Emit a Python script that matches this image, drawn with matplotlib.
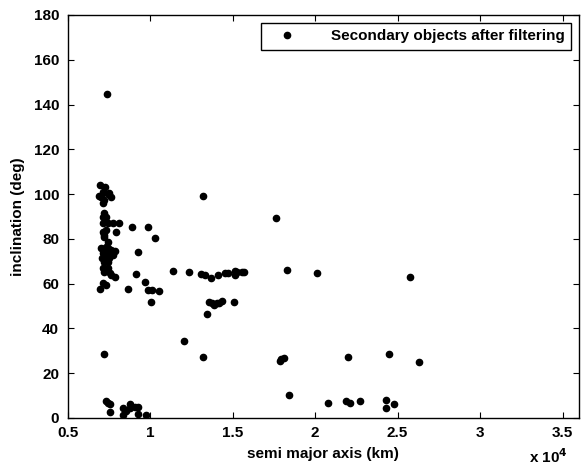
import numpy as np
import matplotlib
matplotlib.use("Agg")
import matplotlib.pyplot as plt

plt.rcParams['font.family'] = ['Liberation Sans', 'DejaVu Sans']
plt.rcParams['font.weight'] = 'bold'

# semi major axis (x 1e4 km) and inclination (deg)
sma = [0.738,
       0.694, 0.728, 0.714, 0.744, 0.704, 0.724, 0.714, 0.750, 0.765, 0.690,
       0.724, 0.714, 0.735, 0.714, 0.744, 0.775, 0.811, 0.892, 0.987, 1.031,
       0.714, 0.735, 0.724, 0.795, 0.744, 0.724,
       0.704, 0.735, 0.744, 0.765, 0.790, 0.714, 0.735, 0.755, 0.775, 0.710,
       0.730, 0.750, 0.724, 0.745, 0.930,
       0.714, 0.744, 0.724, 0.755, 0.765, 0.785, 0.916,
       0.694, 0.714, 0.735, 0.866, 0.967, 0.987, 1.011, 1.057, 1.009,
       1.138, 1.238, 1.308, 1.336, 1.371, 1.415, 1.452, 1.472, 1.518, 1.518, 1.530, 1.560, 1.570,
       1.324, 1.761, 1.831, 2.009,
       1.356, 1.373, 1.389, 1.405, 1.421, 1.438, 1.510, 1.347,
       1.209, 0.724, 1.324, 1.785, 1.795, 1.809, 2.197, 2.447, 2.633, 2.575,
       1.845, 2.076, 2.189, 2.213, 2.270, 2.431, 2.431, 2.476,
       0.735, 0.748, 0.758, 0.758, 0.835, 0.835, 0.856, 0.880, 0.880, 0.906, 0.926, 0.930, 0.977]
incl = [144.6,
        104.0, 103.3, 101.1, 100.0, 98.8, 97.4, 96.2, 100.4, 98.6, 99.2,
        91.4, 89.9, 89.6, 87.0, 87.0, 87.0, 87.0, 85.4, 85.4, 80.3,
        83.2, 84.0, 81.7, 83.2, 78.7, 81.0,
        75.8, 76.5, 75.8, 75.0, 74.5, 73.6, 73.6, 73.6, 73.0, 71.3,
        71.3, 71.3, 69.8, 69.8, 74.0,
        66.9, 66.9, 65.3, 64.6, 63.9, 63.1, 64.3,
        57.6, 60.2, 59.4, 57.6, 60.9, 57.2, 57.2, 56.6, 51.8,
        65.7, 65.1, 64.5, 64.0, 62.7, 63.9, 64.8, 64.8, 65.7, 64.0, 65.0, 65.0, 65.0,
        99.3, 89.2, 66.1, 64.9,
        51.9, 51.2, 50.5, 51.2, 51.5, 52.1, 51.8, 46.6,
        34.4, 28.6, 27.1, 25.6, 26.2, 26.9, 27.1, 28.6, 24.9, 63.0,
        10.1, 6.6, 7.6, 6.6, 7.6, 8.2, 4.3, 6.4,
        7.6, 6.8, 6.1, 2.8, 4.3, 1.2, 3.3, 6.1, 4.3, 5.0, 5.0, 1.8, 1.2]

x_ticks = [0.5, 1, 1.5, 2, 2.5, 3, 3.5]
x_tick_labels = ['0.5', '1', '1.5', '2', '2.5', '3', '3.5']
y_ticks = [0, 20, 40, 60, 80, 100, 120, 140, 160, 180]

fig = plt.figure(figsize=(5.85, 4.67), dpi=100)
ax = fig.add_axes([0.1154, 0.105, 0.8744, 0.863])

ax.plot(sma, incl, 'k.', markersize=9, label='Secondary objects after filtering')

ax.set_xlim(0.5, 3.6)
ax.set_ylim(0, 180)
ax.set_xticks(x_ticks)
ax.set_xticklabels(x_tick_labels)
ax.set_yticks(y_ticks)
ax.tick_params(direction='in', top=True, right=True, length=4, labelsize=11)
ax.tick_params(axis='x', pad=6)
ax.tick_params(axis='y', pad=6)
for s in ax.spines.values():
    s.set_linewidth(1.0)

ax.set_xlabel('semi major axis (km)', fontsize=11, fontweight='bold', labelpad=5)
ax.set_ylabel('inclination (deg)', fontsize=11, fontweight='bold', labelpad=6)
fig.text(0.905, 0.008, r'x 10$^{\mathbf{4}}$', fontsize=11, fontweight='bold')

leg = ax.legend(loc='upper right', fontsize=11, fancybox=False, edgecolor='k',
                framealpha=1, borderaxespad=0.5, handletextpad=1.6, handlelength=2.5,
                borderpad=0.45)
leg.get_frame().set_linewidth(1.0)

fig.savefig('out.png', dpi=100)
